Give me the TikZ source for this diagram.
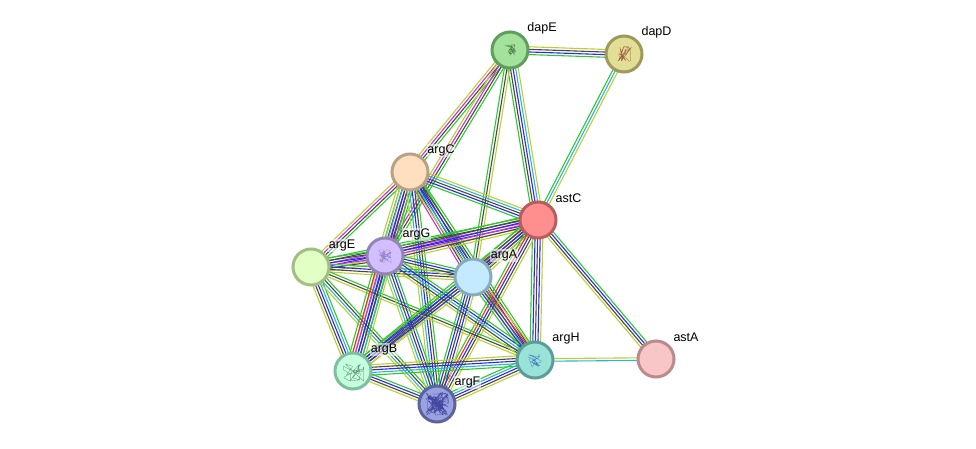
\documentclass[tikz,border=0pt]{standalone}
\usepackage{fontspec}
\setmainfont{Liberation Sans}
\usetikzlibrary{calc}
\pgfdeclarelayer{edges}
\pgfsetlayers{edges,main}
\definecolor{ol}{HTML}{BBD033}
\definecolor{dk}{HTML}{484848}
\definecolor{bl}{HTML}{2A2AE8}
\definecolor{cy}{HTML}{2FB4D8}
\definecolor{mg}{HTML}{D02FD8}
\definecolor{rd}{HTML}{F02A2A}
\definecolor{gr}{HTML}{2FC82F}
\definecolor{dapEl}{HTML}{5F9E5C}\definecolor{dapEf}{HTML}{A3E29A}
\definecolor{dapDl}{HTML}{9E9A5C}\definecolor{dapDf}{HTML}{E3DE96}
\definecolor{argCl}{HTML}{B8A285}\definecolor{argCf}{HTML}{FFDFBF}
\definecolor{astCl}{HTML}{B85C5C}\definecolor{astCf}{HTML}{FF8F8F}
\definecolor{argEl}{HTML}{A3BE85}\definecolor{argEf}{HTML}{E2FFC4}
\definecolor{argGl}{HTML}{9783BB}\definecolor{argGf}{HTML}{D3BFFF}
\definecolor{argAl}{HTML}{85ABBE}\definecolor{argAf}{HTML}{C4EAFF}
\definecolor{argBl}{HTML}{7FBE9E}\definecolor{argBf}{HTML}{C4FFDE}
\definecolor{argFl}{HTML}{5C649E}\definecolor{argFf}{HTML}{9AA3E0}
\definecolor{argHl}{HTML}{5C9E97}\definecolor{argHf}{HTML}{99E2D8}
\definecolor{astAl}{HTML}{BB8A8A}\definecolor{astAf}{HTML}{F8C6C6}
\tikzset{
  protein/.style={circle,minimum size=36pt,inner sep=0pt,line width=3pt,draw=#1l,fill=#1f},
  tag/.style={font=\fontsize{12.5}{13}\selectfont,inner sep=0.5pt,fill=white,fill opacity=.55,text opacity=1},
  strand/.style={line width=1.1pt},
  scribble/.style={line width=.25pt,rounded corners=.6pt,opacity=.85}
}
% A bundle of parallel evidence lines between two named nodes
\newcommand{\bundle}[3]{%
  \foreach \c [count=\i] in {#3} {\global\let\bundlesize\i}%
  \foreach \c [count=\i] in {#3} {%
    \pgfmathsetmacro{\off}{(\i-(\bundlesize+1)/2)*2.6}%
    \draw[strand,color=\c] ($(#1.center)!\off pt!90:(#2.center)$) -- ($(#2.center)!\off pt!-90:(#1.center)$);
  }%
}
% Small folded-chain drawing inside a node
\newcommand{\fold}[5]{%
  \pgfmathsetseed{#5}%
  \draw[scribble,color=#2] (#1.center) \foreach \k in {1,...,#4} { -- ($(#1.center)+({rand*#3},{rand*#3})$) };
}
\begin{document}
\begin{tikzpicture}[x=1pt,y=-1pt]
\useasboundingbox (0,0) rectangle (976,449);
\begin{pgfonlayer}{edges}
\fill[white] (0,0) rectangle (976,449);
\end{pgfonlayer}

% Proteins
\node[protein=dapE] (dapE) at (510,50) {};
\node[protein=dapD] (dapD) at (624,54) {};
\node[protein=argC] (argC) at (410,172) {};
\node[protein=astC] (astC) at (538,220) {};
\node[protein=argE] (argE) at (311,267) {};
\node[protein=argG] (argG) at (385,256) {};
\node[protein=argA] (argA) at (473,277) {};
\node[protein=argB] (argB) at (353,371) {};
\node[protein=argF] (argF) at (437,404) {};
\node[protein=argH] (argH) at (535,360) {};
\node[protein=astA] (astA) at (656,359) {};

% Structure sketches
\fold{dapE}{dapEl!70!black}{6}{30}{11}
\fold{dapD}{dapDl!60!red!70!black}{8}{24}{12}
\fold{argG}{argGl!90!blue}{7}{35}{13}
\fold{argB}{argBl!60!black}{11}{24}{14}
\fold{argF}{argFl!70!blue!80!black}{12}{80}{15}
\fold{argH}{argHl!60!blue}{8}{18}{16}

% Interaction bundles
\begin{pgfonlayer}{edges}
\bundle{dapE}{dapD}{gr,bl,dk,ol}
\bundle{dapD}{astC}{gr,cy,ol}
\bundle{dapE}{astC}{gr,dk,bl,cy,ol}
\bundle{dapE}{argC}{ol,mg,dk,gr}
\bundle{dapE}{argG}{ol,mg,dk,gr}
\bundle{dapE}{argA}{gr,dk,ol}
\bundle{argC}{astC}{gr,bl,dk,cy,ol}
\bundle{argC}{argE}{ol,mg,dk,gr}
\bundle{argC}{argG}{ol,cy,dk,rd,bl,mg,gr}
\bundle{argC}{argA}{mg,dk,bl,dk,gr}
\bundle{argC}{argH}{ol,cy,bl,dk,gr}
\bundle{argC}{argB}{ol,cy,bl,dk,gr}
\bundle{argC}{argF}{ol,cy,bl,dk,gr}
\bundle{astC}{argE}{gr,dk,mg,bl,ol}
\bundle{astC}{argG}{gr,dk,bl,mg,dk,ol}
\bundle{astC}{argA}{gr,rd,dk,bl,dk,ol}
\bundle{astC}{argH}{gr,bl,dk,bl,ol}
\bundle{astC}{argB}{gr,dk,bl,dk,ol}
\bundle{astC}{argF}{gr,rd,bl,dk,ol}
\bundle{astC}{astA}{ol,dk,bl,gr}
\bundle{argE}{argG}{ol,dk,mg,bl,dk,gr}
\bundle{argE}{argA}{ol,dk,bl,gr}
\bundle{argE}{argB}{ol,dk,bl,cy,gr}
\bundle{argE}{argF}{ol,cy,dk,gr}
\bundle{argE}{argH}{ol,dk,gr}
\bundle{argG}{argA}{ol,dk,bl,gr}
\bundle{argG}{argB}{gr,rd,mg,bl,dk,cy,ol}
\bundle{argG}{argF}{ol,cy,dk,bl,gr}
\bundle{argG}{argH}{ol,dk,cy,bl,gr}
\bundle{argA}{argB}{gr,bl,dk,bl,ol}
\bundle{argA}{argF}{gr,bl,dk,bl,ol}
\bundle{argA}{argH}{gr,bl,dk,rd,ol}
\bundle{argB}{argF}{ol,dk,bl,gr}
\bundle{argB}{argH}{gr,cy,bl,dk,ol}
\bundle{argF}{argH}{ol,dk,bl,cy,gr}
\bundle{argH}{astA}{cy,ol}
\end{pgfonlayer}

% Labels
\node[tag] (dapElabel) at (542,28.5) {dapE};
\node[tag] (dapDlabel) at (656.5,32.5) {dapD};
\node[tag] (argClabel) at (441,150.5) {argC};
\node[tag] (astClabel) at (568.5,198.5) {astC};
\node[tag] (argElabel) at (342,245.5) {argE};
\node[tag] (argGlabel) at (416.5,234.5) {argG};
\node[tag] (argAlabel) at (504,255.5) {argA};
\node[tag] (argBlabel) at (384,349.5) {argB};
\node[tag] (argFlabel) at (467.5,382.5) {argF};
\node[tag] (argHlabel) at (566,338.5) {argH};
\node[tag] (astAlabel) at (686,337.5) {astA};
\end{tikzpicture}
\end{document}
